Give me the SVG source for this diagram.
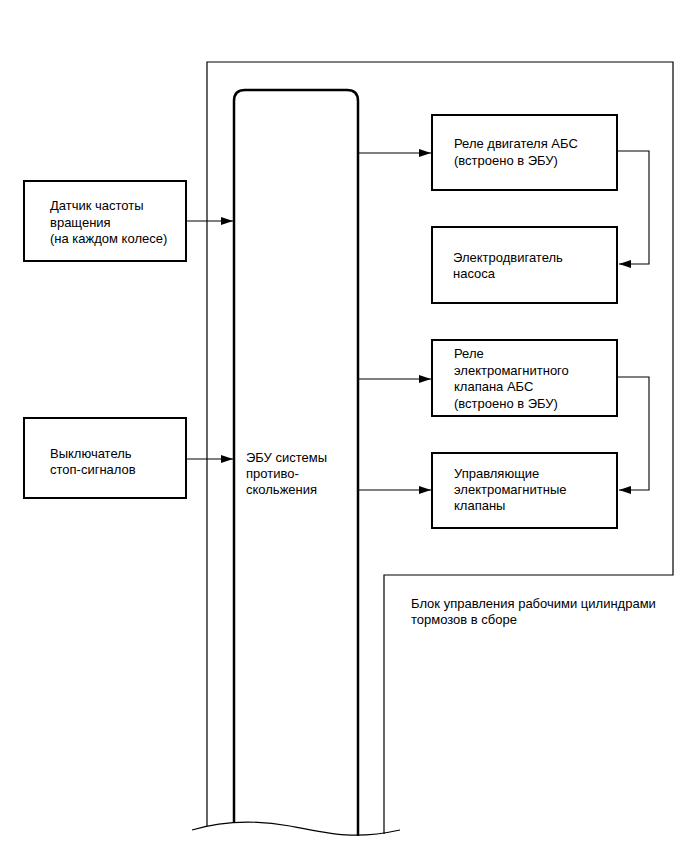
<svg xmlns="http://www.w3.org/2000/svg" width="690" height="855" viewBox="0 0 690 855">
<style>
text{font-family:"Liberation Sans",Arial,sans-serif;font-size:13px;fill:#000}
.box{fill:#fff;stroke:#000;stroke-width:2}
.thin{fill:none;stroke:#000;stroke-width:1.2}
.ecu{fill:none;stroke:#000;stroke-width:2.5}
.con{fill:none;stroke:#000;stroke-width:1.1}
</style>
<defs>
<marker id="ah" viewBox="0 0 12 8" refX="12" refY="4" markerWidth="12" markerHeight="8" markerUnits="userSpaceOnUse" orient="auto">
<path d="M0,0 L12,4 L0,8 Z" fill="#000"/>
</marker>
</defs>
<rect width="690" height="855" fill="#fff"/>
<g id="frame">
<path class="thin" d="M207,826 V62 H673 V575 H384 V834"/>
<text x="411" y="608">Блок управления рабочими цилиндрами</text>
<text x="411" y="624">тормозов в сборе</text>
</g>
<g id="ecu">
<path class="ecu" d="M234,823 V101 Q234,90 245,90 H347 Q358,90 358,101 V836"/>
<text x="246" y="462">ЭБУ системы</text>
<text x="246" y="478">противо-</text>
<text x="246" y="494">скольжения</text>
</g>
<g id="break">
<path class="thin" stroke-width="1.5" d="M192,830 C215,823 245,818 290,826 C330,834 355,840 400,830"/>
</g>
<g id="sensor">
<rect class="box" x="24" y="181" width="162" height="80"/>
<text x="50" y="210">Датчик частоты</text>
<text x="50" y="227">вращения</text>
<text x="50" y="243">(на каждом колесе)</text>
</g>
<g id="switch">
<rect class="box" x="24" y="418" width="162" height="80"/>
<text x="50" y="458">Выключатель</text>
<text x="50" y="474">стоп-сигналов</text>
</g>
<g id="relay-motor">
<rect class="box" x="432" y="115" width="185" height="75"/>
<text x="454" y="148">Реле двигателя АБС</text>
<text x="454" y="165">(встроено в ЭБУ)</text>
</g>
<g id="pump-motor">
<rect class="box" x="432" y="227" width="185" height="76"/>
<text x="453" y="262">Электродвигатель</text>
<text x="453" y="278">насоса</text>
</g>
<g id="relay-valve">
<rect class="box" x="432" y="340" width="185" height="76"/>
<text x="454" y="358">Реле</text>
<text x="454" y="375">электромагнитного</text>
<text x="454" y="391">клапана АБС</text>
<text x="454" y="408">(встроено в ЭБУ)</text>
</g>
<g id="valves">
<rect class="box" x="432" y="453" width="185" height="75"/>
<text x="454" y="478">Управляющие</text>
<text x="454" y="494">электромагнитные</text>
<text x="454" y="510">клапаны</text>
</g>
<g id="connectors">
<path class="con" d="M186,221 H233" marker-end="url(#ah)"/>
<path class="con" d="M186,459 H233" marker-end="url(#ah)"/>
<path class="con" d="M359,153 H431" marker-end="url(#ah)"/>
<path class="con" d="M359,379 H431" marker-end="url(#ah)"/>
<path class="con" d="M359,490 H431" marker-end="url(#ah)"/>
<path class="con" d="M618,151 H649 V264 H619" marker-end="url(#ah)"/>
<path class="con" d="M618,377 H649 V490 H619" marker-end="url(#ah)"/>
</g>
</svg>
